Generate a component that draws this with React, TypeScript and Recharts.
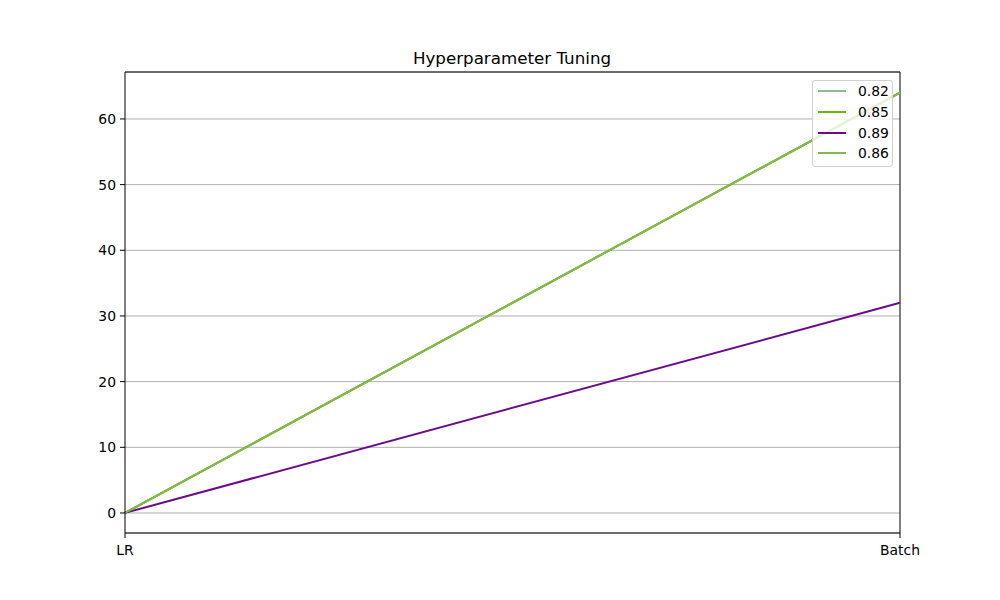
import React from 'react'
import {
  CartesianGrid,
  Line,
  LineChart,
  ReferenceLine,
  XAxis,
  YAxis,
} from 'recharts'

const columns = ['LR', 'Batch']
const runLabels = ['0.82', '0.85', '0.89', '0.86']
const lrValues = [0.01, 0.001, 0.01, 0.005]
const batchValues = [64, 64, 32, 64]
const runColors = ['#8ebd94', '#6ab800', '#6c0a8c', '#84b84a']
const yTicks = [0, 10, 20, 30, 40, 50, 60]

const data = columns.map((col) => {
  const row: { [key: string]: string | number } = { col }
  runLabels.forEach((label, i) => {
    row[label] = col === 'LR' ? lrValues[i] : batchValues[i]
  })
  return row
})

const font = 'DejaVu Sans, sans-serif'

const LegendBox = () => (
  <div
    style={{
      position: 'absolute',
      left: 812,
      top: 80,
      width: 81,
      height: 87,
      boxSizing: 'border-box',
      border: '1px solid #d0d0d0',
      borderRadius: 3,
      background: 'rgba(255,255,255,0.8)',
      padding: '0 0 0 5px',
      fontFamily: font,
      fontSize: 13.9,
      color: '#000',
    }}
  >
    {runLabels.map((label, i) => (
      <div
        key={label}
        style={{ display: 'flex', alignItems: 'center', height: 20.7 }}
      >
        <span
          style={{
            display: 'inline-block',
            width: 28,
            height: 2,
            background: runColors[i],
            marginRight: 12,
          }}
        />
        <span>{label}</span>
      </div>
    ))}
  </div>
)

export default function App() {
  return (
    <div
      style={{
        position: 'absolute',
        left: 0,
        top: 0,
        width: 1000,
        height: 600,
        background: '#fff',
      }}
    >
      <LineChart
        width={1000}
        height={600}
        data={data}
        margin={{ top: 72, right: 100, bottom: 37, left: 0 }}
      >
        <text
          x={512}
          y={64}
          textAnchor="middle"
          style={{ fontFamily: font, fontSize: 16.7, fill: '#000' }}
        >
          Hyperparameter Tuning
        </text>
        <CartesianGrid vertical={false} stroke="#b0b0b0" />
        <XAxis
          dataKey="col"
          height={30}
          axisLine={{ stroke: '#000' }}
          tickLine={{ stroke: '#000' }}
          tickSize={5}
          tick={{ fill: '#000', fontSize: 13.9, fontFamily: font }}
          tickMargin={7}
          interval={0}
        />
        <YAxis
          width={125}
          domain={[-3.05, 67.15]}
          type="number"
          ticks={yTicks}
          axisLine={{ stroke: '#000' }}
          tickLine={{ stroke: '#000' }}
          tickSize={5}
          tickMargin={4}
          tick={{ fill: '#000', fontSize: 13.9, fontFamily: font }}
        />
        <ReferenceLine y={67.15} stroke="#000" />
        <ReferenceLine x="Batch" stroke="#000" />
        {runLabels.map((label, i) => (
          <Line
            key={label}
            dataKey={label}
            stroke={runColors[i]}
            strokeWidth={2}
            dot={false}
            isAnimationActive={false}
            type="linear"
          />
        ))}
      </LineChart>
      <LegendBox />
    </div>
  )
}
